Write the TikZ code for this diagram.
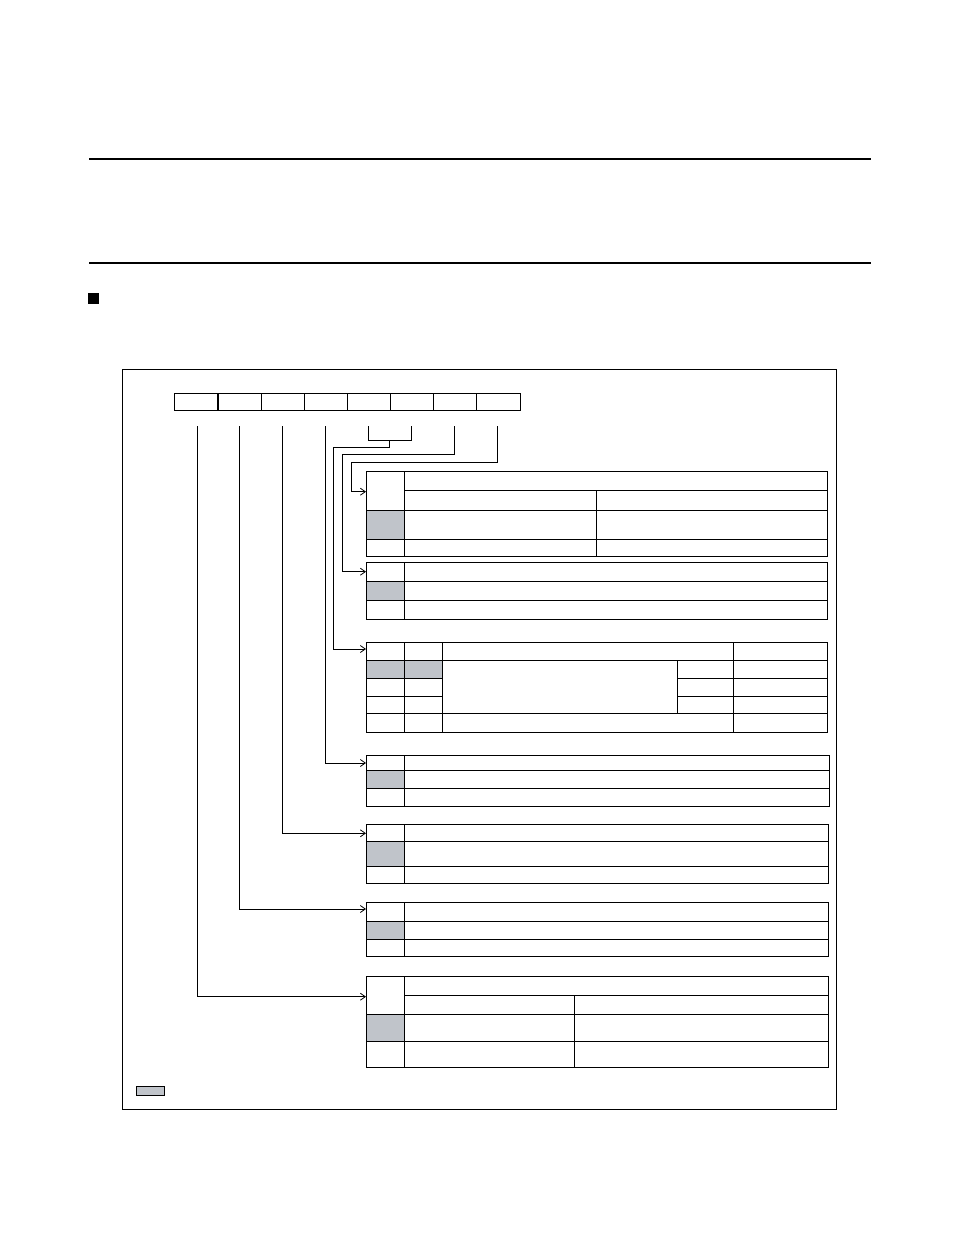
\documentclass[tikz,border=0pt]{standalone}
\usepackage{tikz}
\usetikzlibrary{arrows.meta}
\usetikzlibrary{calc}
\definecolor{cellgray}{RGB}{192,196,202}

\begin{document}
\begin{tikzpicture}[x=1pt, y=-1pt, line width=0.8pt,
        rule_style/.style={draw=black, line width=1.1pt},
        frame_style/.style={draw=black, line width=0.9pt},
        bit_style/.style={draw=black, anchor=north west, inner sep=0pt, minimum width=43.2pt, minimum height=17.6pt},
        shade_style/.style={fill=cellgray},
        legend_style/.style={draw=black, fill=cellgray},
        edge_style/.style={draw=black, line width=0.8pt, -{Straight Barb[length=5pt,width=7pt]}},
        link_style/.style={draw=black, line width=0.8pt}]

        \useasboundingbox (0,0) rectangle (954,1235);

        \draw [rule_style] (89,159) -- (871,159);

        \draw [rule_style] (89,263) -- (871,263);

        \fill [black] (88,293) rectangle (99,304);

        \draw [frame_style] (122,369) rectangle (836,1109);

        \foreach \i in {0,...,7} {
            \pgfmathtruncatemacro{\n}{7-\i}
            \node [bit_style] (b\n) at ({174.3+43.15*\i},392.7) {};
        }

        \coordinate (s7) at (197.3,426);
        \coordinate (s6) at (239.7,426);
        \coordinate (s5) at (282.5,426);
        \coordinate (s4) at (325.3,426);
        \coordinate (s3) at (368.3,426);
        \coordinate (s2) at (411.7,426);
        \coordinate (s1) at (454.3,426);
        \coordinate (s0) at (497.3,426);

        \coordinate (t1) at (366,491.7);
        \coordinate (t2) at (366,571.7);
        \coordinate (t3) at (366,649);
        \coordinate (t4) at (366,763);
        \coordinate (t5) at (366,833.3);
        \coordinate (t6) at (366,909);
        \coordinate (t7) at (366,996.7);

        \coordinate (m32) at (389.3,440.3);
        \coordinate (k32) at (333.7,447.7);
        \coordinate (k1) at (342.3,454.3);
        \coordinate (k0) at (351,462);

        \draw [link_style] (s3) |- (m32) -| (s2);

        \draw [edge_style] (m32) |- (k32) |- (t3);

        \draw [edge_style] (s1) |- (k1) |- (t2);

        \draw [edge_style] (s0) |- (k0) |- (t1);

        \draw [edge_style] (s4) |- (t4);

        \draw [edge_style] (s5) |- (t5);

        \draw [edge_style] (s6) |- (t6);

        \draw [edge_style] (s7) |- (t7);

        \fill [shade_style] (366,510.7) rectangle (404,539.7);
        \draw (366,471.7) rectangle (827,556.7);
        \draw (404,471.7) -- (404,556.7);
        \draw (404,490) -- (827,490);
        \draw (366,510.7) -- (827,510.7);
        \draw (366,539.7) -- (827,539.7);
        \draw (596.7,490) -- (596.7,556.7);

        \fill [shade_style] (366,581) rectangle (404,600.3);
        \draw (366,562.3) rectangle (827,619.3);
        \draw (404,562.3) -- (404,619.3);
        \draw (366,581) -- (827,581);
        \draw (366,600.3) -- (827,600.3);

        \fill [shade_style] (366,660.7) rectangle (442,678.3);
        \draw (366,642) rectangle (827,732);
        \draw (404,642) -- (404,732);
        \draw (442,642) -- (442,732);
        \draw (733,642) -- (733,732);
        \draw (677.3,660.7) -- (677.3,713.3);
        \draw (366,660.7) -- (827,660.7);
        \draw (366,678.3) -- (442,678.3);
        \draw (366,696) -- (442,696);
        \draw (677.3,678.3) -- (827,678.3);
        \draw (677.3,696) -- (827,696);
        \draw (366,713.3) -- (827,713.3);

        \fill [shade_style] (366,770.3) rectangle (404,788.3);
        \draw (366,755) rectangle (829,806);
        \draw (404,755) -- (404,806);
        \draw (366,770.3) -- (829,770.3);
        \draw (366,788.3) -- (829,788.3);

        \fill [shade_style] (366,841.7) rectangle (404,866.7);
        \draw (366,824.7) rectangle (828,883.3);
        \draw (404,824.7) -- (404,883.3);
        \draw (366,841.7) -- (828,841.7);
        \draw (366,866.7) -- (828,866.7);

        \fill [shade_style] (366,921.7) rectangle (404,939);
        \draw (366,902.7) rectangle (828,956);
        \draw (404,902.7) -- (404,956);
        \draw (366,921.7) -- (828,921.7);
        \draw (366,939) -- (828,939);

        \fill [shade_style] (366,1014.3) rectangle (404,1041);
        \draw (366,976.7) rectangle (828,1067.7);
        \draw (404,976.7) -- (404,1067.7);
        \draw (574,995.3) -- (574,1067.7);
        \draw (404,995.3) -- (828,995.3);
        \draw (366,1014.3) -- (828,1014.3);
        \draw (366,1041) -- (828,1041);

        \draw [legend_style] (136,1086.5) rectangle (164,1095.5);

\end{tikzpicture}
\end{document}
